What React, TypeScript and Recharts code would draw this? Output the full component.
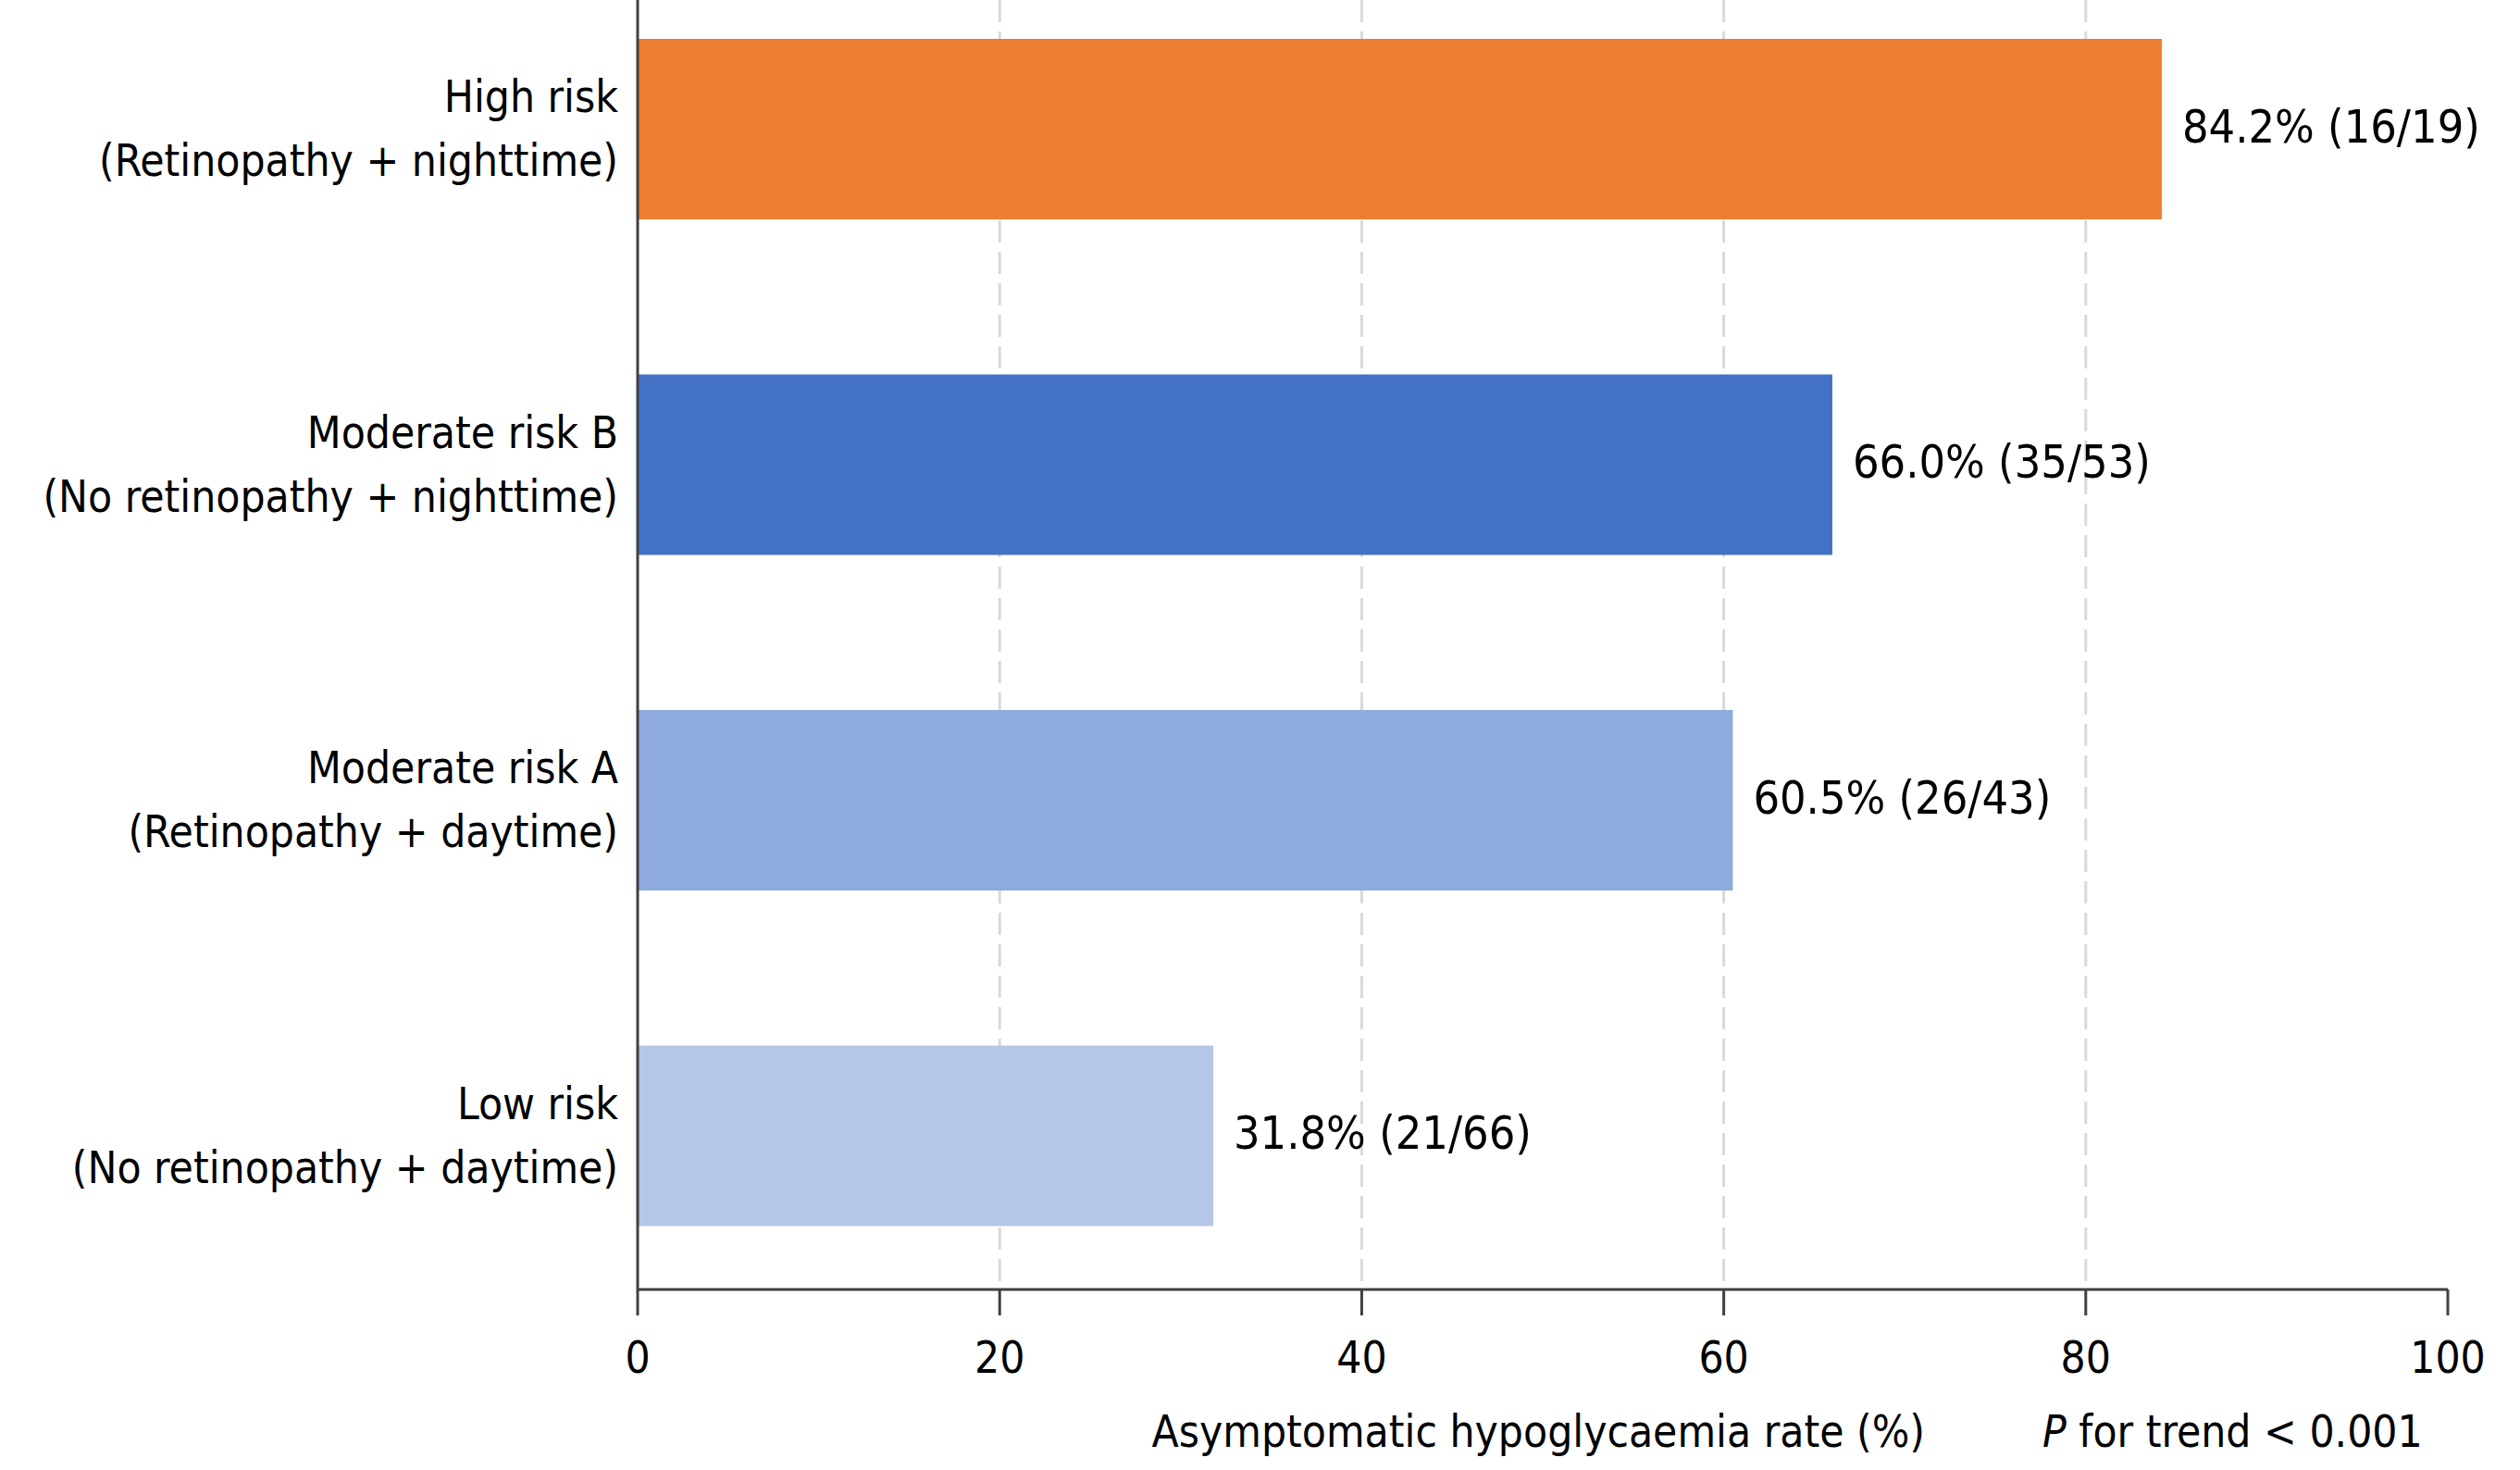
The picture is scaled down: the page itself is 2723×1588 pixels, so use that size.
import { BarChart, Bar, XAxis, YAxis, CartesianGrid, Cell, LabelList } from 'recharts';

const CATEGORIES = ['High risk', 'Moderate risk B', 'Moderate risk A', 'Low risk'];
const SUBTITLES = [
  '(Retinopathy + nighttime)',
  '(No retinopathy + nighttime)',
  '(Retinopathy + daytime)',
  '(No retinopathy + daytime)',
];
const RATES = [84.2, 66.0, 60.5, 31.8];
const EVENTS = [16, 35, 26, 21];
const TOTALS = [19, 53, 43, 66];
const BAR_COLORS = ['#ED7D31', '#4472C4', '#8FAADC', '#B4C7E7'];
const X_TICKS = [0, 20, 40, 60, 80, 100];
const GRID_VALUES = [20, 40, 60, 80];
const X_TITLE = 'Asymptomatic hypoglycaemia rate (%)';
const TREND_NOTE = ' for trend < 0.001';

const FONT = '"DejaVu Sans Condensed", "DejaVu Sans", sans-serif';
const FONT_SIZE = 47.5;
const AXIS_COLOR = '#404040';

const data = CATEGORIES.map((name, i) => ({
  name,
  rate: RATES[i],
  label: `${RATES[i].toFixed(1)}% (${EVENTS[i]}/${TOTALS[i]})`,
}));

function XTick(props: any) {
  const { x, y, payload } = props;
  return (
    <text x={x} y={y} dy={62} textAnchor="middle" fontSize={FONT_SIZE} fontFamily={FONT} fill="#000">
      {payload.value}
    </text>
  );
}

function YTick(props: any) {
  const { x, y, payload, index } = props;
  return (
    <text textAnchor="end" fontSize={FONT_SIZE} fontFamily={FONT} fill="#000">
      <tspan x={x} y={y - 18}>{payload.value}</tspan>
      <tspan x={x} y={y + 51}>{SUBTITLES[index]}</tspan>
    </text>
  );
}

// value labels sit to the right of each bar, slightly larger than the axis text
function renderValueLabel(props: any) {
  const { x, y, width, height, value } = props;
  return (
    <text x={x + width + 22} y={y + height / 2 + 14} fontSize={50} fontFamily={FONT} fill="#000">
      {value}
    </text>
  );
}

function renderTitle(props: any) {
  const { viewBox } = props;
  const base = viewBox.y + 170;
  return (
    <g fontSize={FONT_SIZE} fontFamily={FONT} fill="#000">
      <text x={viewBox.x + 1391} y={base} textAnchor="end">{X_TITLE}</text>
      <text x={viewBox.x + 1518} y={base} textAnchor="start">
        <tspan fontStyle="italic">P</tspan>
        {TREND_NOTE}
      </text>
    </g>
  );
}

export default function App() {
  return (
    <div style={{ position: 'absolute', left: 0, top: 0, width: 2723, height: 1588, overflow: 'hidden', background: '#fff' }}>
      <BarChart
        width={2723}
        height={1588}
        data={data}
        layout="vertical"
        margin={{ top: 0, right: 78, bottom: 0, left: 0 }}
      >
        <CartesianGrid
          horizontal={false}
          verticalValues={GRID_VALUES}
          stroke="#d9d9d9"
          strokeWidth={3}
          strokeDasharray="24 10"
        />
        <XAxis
          type="number"
          domain={[0, 100]}
          ticks={X_TICKS}
          interval={0}
          height={195}
          axisLine={{ stroke: AXIS_COLOR, strokeWidth: 3 }}
          tickLine={{ stroke: AXIS_COLOR, strokeWidth: 3 }}
          tickSize={28}
          tickMargin={0}
          tick={<XTick />}
          label={renderTitle}
        />
        <YAxis
          type="category"
          dataKey="name"
          width={689}
          interval={0}
          padding={{ top: -42, bottom: -15 }}
          axisLine={{ stroke: AXIS_COLOR, strokeWidth: 3 }}
          tickLine={false}
          tickSize={0}
          tickMargin={21}
          tick={<YTick />}
        />
        <Bar dataKey="rate" barSize={195} isAnimationActive={false}>
          {data.map((d, i) => (
            <Cell key={d.name} fill={BAR_COLORS[i]} />
          ))}
          <LabelList dataKey="label" content={renderValueLabel} />
        </Bar>
      </BarChart>
    </div>
  );
}
